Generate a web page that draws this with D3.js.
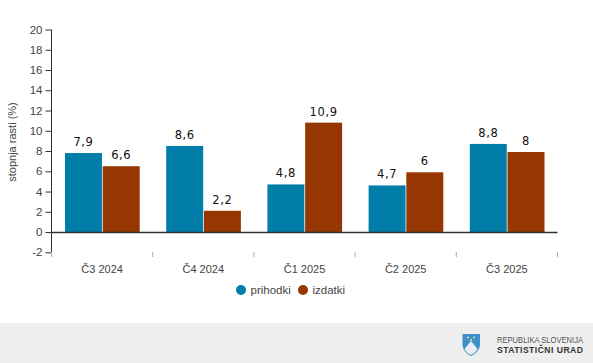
<!DOCTYPE html>
<html><head><meta charset="utf-8">
<script src="https://cdnjs.cloudflare.com/ajax/libs/d3/7.8.5/d3.min.js"></script>
<style>html,body{margin:0;padding:0;background:#fff}svg{display:block}text{font-family:"Liberation Sans",Arial,sans-serif}</style>
</head><body><svg id="c" width="593" height="363"></svg>
<script>
const categories=["Č3 2024","Č4 2024","Č1 2025","Č2 2025","Č3 2025"];
const prihodki=[7.9,8.6,4.8,4.7,8.8];
const izdatki=[6.6,2.2,10.9,6,8];
const seriesNames=["prihodki","izdatki"];
const seriesColors=["#007ea9","#963600"];
const yTicks=[-2,0,2,4,6,8,10,12,14,16,18,20];
const svg=d3.select("#c");
const y=d3.scaleLinear().domain([-2,20]).range([252.3,29.5]);
const x=d3.scaleBand().domain(categories).range([51.5,557.5]);
const inner=d3.scaleBand().domain(seriesNames).range([13.5,x.bandwidth()-13]).paddingInner(0.02);
const axisCol="#333";
svg.append("rect").attr("x",0).attr("y",323).attr("width",593).attr("height",40).attr("fill","#efefef");
seriesNames.forEach((s,i)=>{
  const vals=i?izdatki:prihodki;
  const g=svg.append("g");
  g.selectAll("rect").data(categories).join("rect")
   .attr("x",c=>x(c)+inner(s)).attr("width",inner.bandwidth())
   .attr("y",(c,j)=>y(vals[j])+1).attr("height",(c,j)=>y(0)-y(vals[j])-1)
   .attr("fill",seriesColors[i]);
  g.selectAll("text").data(categories).join("text")
   .attr("x",c=>x(c)+inner(s)+inner.bandwidth()/2).attr("y",(c,j)=>y(vals[j])-6)
   .attr("text-anchor","middle").attr("letter-spacing",0.6).attr("fill","#111")
   .style("font-family","'DejaVu Sans',sans-serif").style("font-size","11.5px")
   .text((c,j)=>String(vals[j]).replace(".",","));
});
const ya=svg.append("g").attr("transform","translate(51.5,0)").call(d3.axisLeft(y).tickValues(yTicks).tickSize(6).tickPadding(3).tickFormat(d=>d));
ya.selectAll("path").attr("d","M0,29.5V252.3").attr("stroke",axisCol);
ya.selectAll("line").attr("stroke",axisCol);
ya.selectAll("text").attr("fill","#444").style("font-family","'Liberation Sans',Arial,sans-serif").style("font-size","11.5px");
svg.append("line").attr("x1",51.5).attr("x2",557.5).attr("y1",Math.round(y(0))+.5).attr("y2",Math.round(y(0))+.5).attr("stroke",axisCol).attr("stroke-width",1.3);
const tickPos=[0,1,2,3,4,5];
svg.append("g").selectAll("line").data(tickPos).join("line")
 .attr("x1",i=>51.5+i*x.step()).attr("x2",i=>51.5+i*x.step()).attr("y1",252).attr("y2",257).attr("stroke","#aaa");
svg.append("g").selectAll("text").data(categories).join("text")
 .attr("x",c=>x(c)+x.bandwidth()/2).attr("y",273).attr("text-anchor","middle").attr("font-size",11).attr("fill","#444").text(c=>c);
svg.append("text").attr("transform","translate(16,142) rotate(-90)").attr("text-anchor","middle").attr("font-size",11).attr("fill","#444").text("stopnja rasti (%)");
const lx=[241,303];
seriesNames.forEach((s,i)=>{
  svg.append("circle").attr("cx",lx[i]).attr("cy",290).attr("r",5).attr("fill",seriesColors[i]);
  svg.append("text").attr("x",lx[i]+9.5).attr("y",294).attr("font-size",11.5).attr("fill","#444").text(s);
});
const lg=svg.append("g");
lg.append("path").attr("d","M462.5,334H480V344C480,350 475,354 471,356C467,354 462.5,350 462.5,344Z").attr("fill","#3f8fc9");
lg.append("path").attr("d","M464.5,349L471,341L477.5,349C476,352 473.5,354 471,355C468.5,354 466,352 464.5,349Z").attr("fill","#e8eef2");
[[468,337.5],[474,337.5],[471,340]].forEach(p=>lg.append("circle").attr("cx",p[0]).attr("cy",p[1]).attr("r",.9).attr("fill","#f3e9a8"));
svg.append("text").attr("x",497).attr("y",342.5).attr("font-size",8.6).attr("textLength",86).attr("lengthAdjust","spacingAndGlyphs").attr("fill","#555").text("REPUBLIKA SLOVENIJA");
svg.append("text").attr("x",497).attr("y",352.5).attr("font-size",8.6).attr("font-weight","bold").attr("textLength",86).attr("fill","#333").text("STATISTIČNI URAD");
</script></body></html>
